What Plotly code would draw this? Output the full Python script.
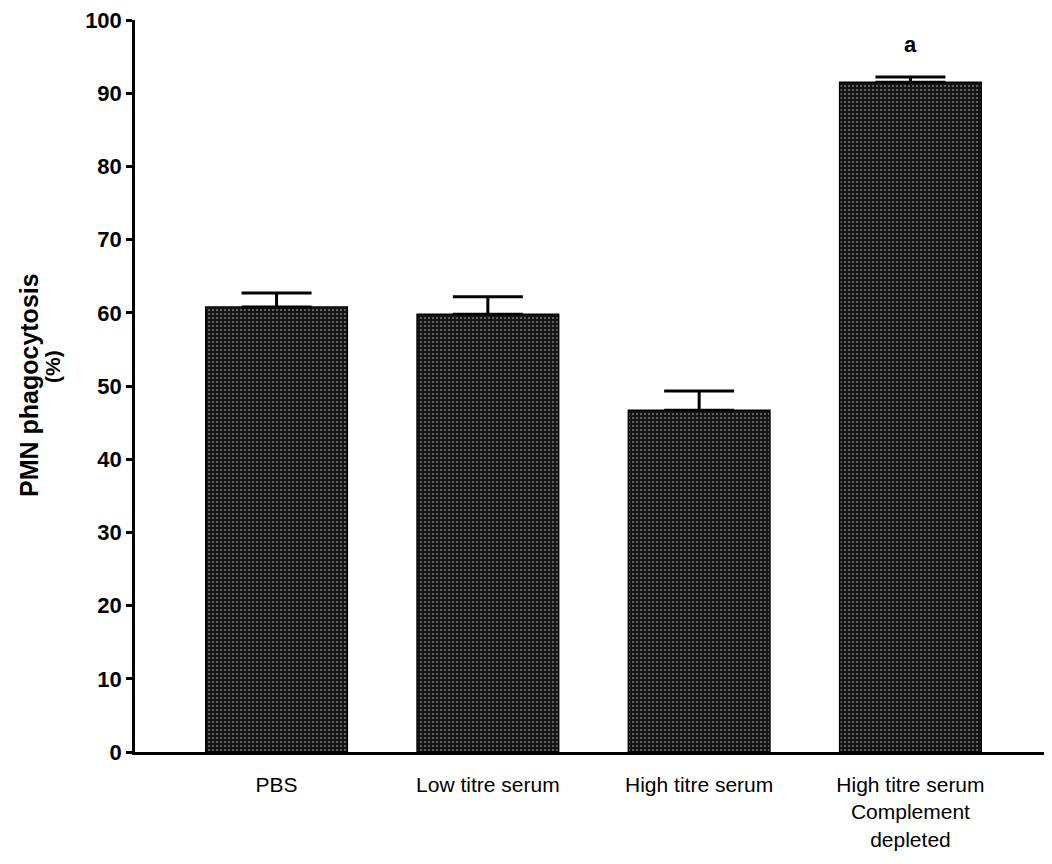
import plotly.graph_objects as go

categories = ["PBS", "Low titre serum", "High titre serum",
              "High titre serum<br>Complement<br>depleted"]
means = [60.8, 59.8, 46.7, 91.5]
sem = [1.9, 2.4, 2.6, 0.7]
annotation_labels = ["", "", "", "a"]

font_fam = "Liberation Sans, Arial"

fig = go.Figure()
fig.add_trace(go.Bar(
    x=categories, y=means,
    width=0.67,
    marker=dict(
        color="#1a1a1a",
        line=dict(color="black", width=1.5),
        pattern=dict(shape=".", fgcolor="#cfcfcf", bgcolor="#141414",
                     size=4, solidity=0.22, fillmode="overlay"),
    ),
    error_y=dict(type="data", array=sem, arrayminus=[0]*len(sem),
                 symmetric=False, color="black", thickness=3, width=35),
    showlegend=False,
))

for c, m, s, lab in zip(categories, means, sem, annotation_labels):
    if lab:
        fig.add_annotation(x=c, y=m + s, text="<b>" + lab + "</b>", showarrow=False,
                           yshift=33, font=dict(size=22, color="black", family=font_fam))

# y-axis title as two rotated lines (tight line spacing as in the reference)
L, W, B, H = 135, 917, 752, 732
fig.add_annotation(xref="paper", yref="paper", x=(29 - L) / W, y=(B - 385) / H,
                   text="<b>PMN phagocytosis</b>", textangle=-90, showarrow=False,
                   xanchor="center", yanchor="middle",
                   font=dict(size=25, color="black", family=font_fam))
fig.add_annotation(xref="paper", yref="paper", x=(52 - L) / W, y=(B - 367) / H,
                   text="<b>(%)</b>", textangle=-90, showarrow=False,
                   xanchor="center", yanchor="middle",
                   font=dict(size=21, color="black", family=font_fam))

fig.update_layout(
    width=1044, height=856,
    margin=dict(l=127, r=0, t=12, b=112),
    plot_bgcolor="white", paper_bgcolor="white",
    font=dict(family=font_fam, color="black"),
)
fig.update_xaxes(
    range=[-0.67, 3.67],
    showline=True, linecolor="black", linewidth=2.5,
    ticks="", ticklabelstandoff=12,
    tickfont=dict(size=21, family=font_fam),
    showgrid=False,
)
fig.update_yaxes(
    range=[0, 100], tickvals=list(range(0, 101, 10)),
    ticklabeloverflow="allow",
    showline=True, linecolor="black", linewidth=2.5,
    ticks="outside", ticklen=6, tickwidth=2.5, tickcolor="black",
    tickfont=dict(size=22, family=font_fam, weight="bold"),
    showgrid=False, zeroline=False,
)
fig.write_html("out.html")
